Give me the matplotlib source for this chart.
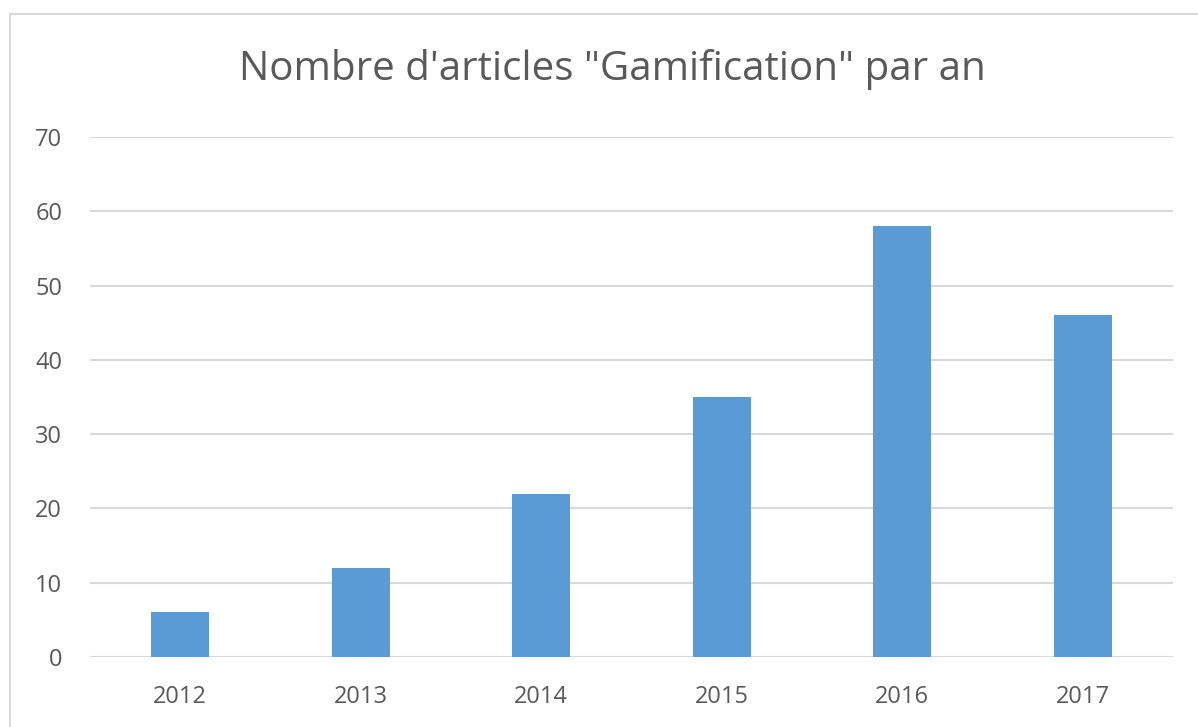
import matplotlib.pyplot as plt
from matplotlib.patches import Rectangle

# Data
years = ["2012", "2013", "2014", "2015", "2016", "2017"]
articles = [6, 12, 22, 35, 58, 46]
y_ticks = [0, 10, 20, 30, 40, 50, 60, 70]

plt.rcParams["font.family"] = ["Open Sans", "DejaVu Sans"]

fig = plt.figure(figsize=(11.98, 7.27), dpi=100)
ax = fig.add_axes([90 / 1198, 1 - 657 / 727, 1083 / 1198, 520 / 727])

x = range(len(years))
ax.bar(x, articles, width=0.32, color="#5B9BD5", zorder=3)

ax.set_xlim(-0.5, len(years) - 0.5)
ax.set_ylim(0, 70)
ax.set_yticks(y_ticks)
ax.set_xticks(list(x))
ax.set_xticklabels(years)

ax.grid(axis="y", color="#D9D9D9", linewidth=1.5, zorder=0)
for s in ax.spines.values():
    s.set_visible(False)
ax.tick_params(axis="both", length=0, labelsize=17, colors="#595959")
ax.tick_params(axis="y", pad=20)
ax.tick_params(axis="x", pad=20)

fig.text(0.511, 1 - 70 / 727, "Nombre d'articles \"Gamification\" par an",
         ha="center", va="center", fontsize=29, color="#595959")

# chart frame
fig.patches.append(Rectangle((10 / 1198, -0.1), 1.2, 1 - 14 / 727 + 0.1,
                             transform=fig.transFigure, fill=False,
                             edgecolor="#D9D9D9", linewidth=1.5))

fig.savefig("out.png", dpi=100)
